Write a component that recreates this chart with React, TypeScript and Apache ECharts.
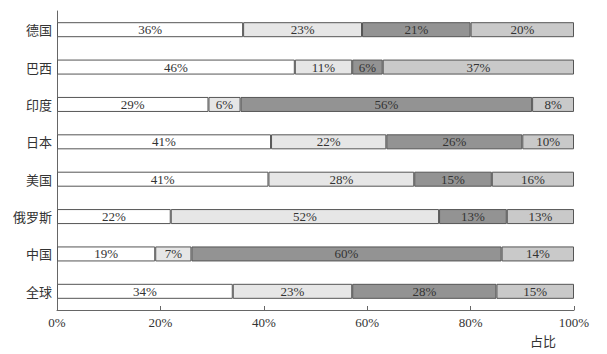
import React, { useEffect, useRef } from "react";
import * as echarts from "echarts";

const categories = ["德国", "巴西", "印度", "日本", "美国", "俄罗斯", "中国", "全球"];
const seriesA = [36.0, 46.0, 29.3, 41.4, 40.9, 22.0, 19.0, 34.0];
const seriesB = [23.0, 11.1, 6.2, 22.3, 28.2, 51.9, 7.0, 23.1];
const seriesC = [21.0, 5.9, 56.4, 26.3, 15.0, 13.1, 60.0, 27.9];
const seriesD = [20.0, 37.0, 8.1, 10.0, 15.9, 13.0, 14.0, 15.0];
const xTicks = [0, 20, 40, 60, 80, 100];

const colors = ["#ffffff", "#e6e6e6", "#939393", "#c9c9c9"];
const serifFont = "'Liberation Serif', 'DejaVu Serif', 'Noto Sans CJK SC', serif";
const cjkFont = "'Noto Sans CJK SC', sans-serif";

export default function App() {
  const ref = useRef<HTMLDivElement>(null);
  useEffect(() => {
    if (!ref.current) return;
    const chart = echarts.init(ref.current, null, { renderer: "svg" });
    const all = [seriesA, seriesB, seriesC, seriesD];
    chart.setOption({
      animation: false,
      grid: { left: 57, right: 33, top: 11, bottom: 44 },
      xAxis: {
        type: "value",
        min: xTicks[0],
        max: xTicks[xTicks.length - 1],
        interval: 20,
        axisLine: { show: true, lineStyle: { color: "#666", width: 1 } },
        axisTick: { show: true, inside: true, length: 4, lineStyle: { color: "#666" } },
        splitLine: { show: false },
        axisLabel: {
          formatter: (v: number) => v + "%",
          color: "#333",
          fontFamily: serifFont,
          fontSize: 13,
          margin: 6,
        },
      },
      yAxis: {
        type: "category",
        data: categories,
        inverse: true,
        axisLine: { show: true, lineStyle: { color: "#666", width: 1 } },
        axisTick: { show: false },
        axisLabel: { color: "#333", fontFamily: cjkFont, fontSize: 13, margin: 5 },
      },
      graphic: [
        {
          type: "text",
          left: 530,
          top: 334,
          style: { text: "占比", fill: "#333", font: "13px 'Noto Sans CJK SC', sans-serif" },
        },
      ],
      series: all.map((d, i) => ({
        type: "bar",
        stack: "total",
        barWidth: 15,
        data: d,
        itemStyle: { color: colors[i], borderColor: "#555", borderWidth: 1 },
        label: {
          show: true,
          position: "inside",
          formatter: (p: any) => Math.round(p.value) + "%",
          color: "#333",
          fontFamily: serifFont,
          fontSize: 13,
        },
      })),
    });
    return () => chart.dispose();
  }, []);
  return <div ref={ref} style={{ width: 607, height: 354, position: "absolute", left: 0, top: 0 }} />;
}
